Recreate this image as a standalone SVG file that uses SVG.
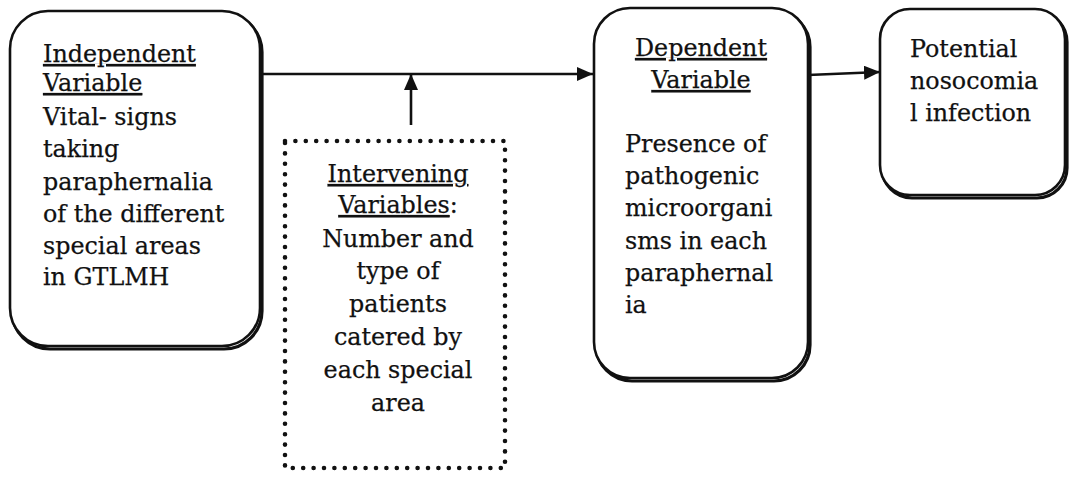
<svg xmlns="http://www.w3.org/2000/svg" width="1069" height="478" viewBox="0 0 1069 478">
<style>
.box{fill:#fff;stroke:#111;stroke-width:2.6}
.shadow{fill:none;stroke:#111;stroke-width:3.2}
.dots{fill:none;stroke:#111;stroke-width:4.6;stroke-linecap:round;stroke-dasharray:0 10.4}
.t{font-family:"DejaVu Serif","Liberation Serif",serif;font-size:23.8px;fill:#111;stroke:#111;stroke-width:0.25}
.c{text-anchor:middle}
.u{text-decoration:underline}
.conn{fill:none;stroke:#111;stroke-width:2.6}
</style>
<defs>
<marker id="ah" markerWidth="16" markerHeight="14" refX="16" refY="7" orient="auto" markerUnits="userSpaceOnUse">
<path d="M0,0 L16,7 L0,14 Z" fill="#111"/>
</marker>
</defs>
<rect width="1069" height="478" fill="#fff"/>
<g id="connectors">
<line class="conn" x1="261" y1="74" x2="593" y2="74" marker-end="url(#ah)"/>
<line class="conn" x1="411" y1="125" x2="411" y2="74" marker-end="url(#ah)"/>
<line class="conn" x1="808" y1="75" x2="880" y2="72" marker-end="url(#ah)"/>
</g>
<g id="independent">
<rect class="shadow" x="12" y="14" width="250" height="335" rx="38"/>
<rect class="box" x="10" y="11" width="250" height="335" rx="38"/>
<text class="t" x="43"><tspan class="u" x="43" y="62">Independent</tspan><tspan class="u" x="43" y="91">Variable</tspan><tspan x="43" y="125">Vital- signs</tspan><tspan x="43" y="157">taking</tspan><tspan x="43" y="190">paraphernalia</tspan><tspan x="43" y="222">of the different</tspan><tspan x="43" y="254">special areas</tspan><tspan x="43" y="285">in GTLMH</tspan></text>
</g>
<g id="intervening">
<rect class="dots" x="285" y="141" width="220" height="327"/>
<text class="t c"><tspan class="u" x="398" y="182">Intervening</tspan><tspan x="398" y="213"><tspan class="u">Variables</tspan>:</tspan><tspan x="398" y="247">Number and</tspan><tspan x="398" y="279">type of</tspan><tspan x="398" y="312">patients</tspan><tspan x="398" y="345">catered by</tspan><tspan x="398" y="378">each special</tspan><tspan x="398" y="411">area</tspan></text>
</g>
<g id="dependent">
<rect class="shadow" x="596" y="11" width="214" height="370" rx="36"/>
<rect class="box" x="594" y="8" width="214" height="370" rx="36"/>
<text class="t"><tspan class="u c" x="701" y="56">Dependent</tspan><tspan class="u c" x="701" y="88">Variable</tspan><tspan x="625" y="152">Presence of</tspan><tspan x="625" y="184">pathogenic</tspan><tspan x="625" y="216">microorgani</tspan><tspan x="625" y="249">sms in each</tspan><tspan x="625" y="281">paraphernal</tspan><tspan x="625" y="313">ia</tspan></text>
</g>
<g id="potential">
<rect class="shadow" x="882" y="12" width="185" height="186" rx="30"/>
<rect class="box" x="880" y="9" width="185" height="186" rx="30"/>
<text class="t"><tspan x="910" y="57">Potential</tspan><tspan x="910" y="89">nosocomia</tspan><tspan x="910" y="121">l infection</tspan></text>
</g>
</svg>
